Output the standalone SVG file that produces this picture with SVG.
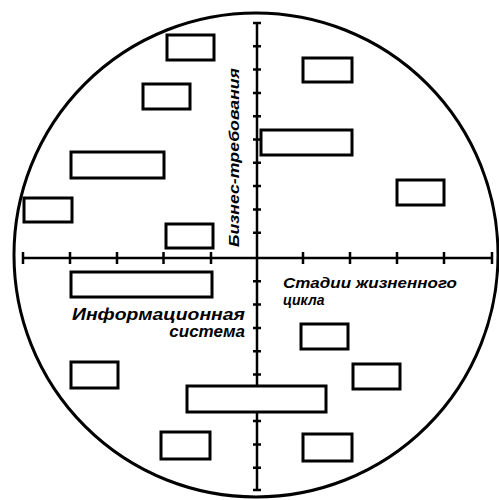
<svg xmlns="http://www.w3.org/2000/svg" width="499" height="500" viewBox="0 0 499 500">
<style>
.n rect{fill:#fff;stroke:#000;stroke-width:3}
.ax{stroke:#000;stroke-width:2.5;fill:none}
.tk{stroke:#000;stroke-width:2.5}
.t{font-family:"Liberation Sans",Arial,sans-serif;font-weight:bold;font-style:italic;fill:#000}
</style>
<rect width="499" height="500" fill="#fff"/>
<circle cx="256" cy="255" r="242" fill="none" stroke="#000" stroke-width="3"/>
<g id="connectors">
<line class="ax" x1="257" y1="22" x2="257" y2="491"/>
<line class="ax" x1="23" y1="258" x2="492" y2="258"/>
<path class="tk" d="M253 23h8M253 46.3h8M253 69.6h8M253 92.9h8M253 116.2h8M253 139.5h8M253 162.8h8M253 186.1h8M253 209.4h8M253 232.7h8M253 281.3h8M253 304.6h8M253 327.9h8M253 351.2h8M253 374.5h8M253 397.8h8M253 421.1h8M253 444.4h8M253 467.7h8M253 490h8"/>
<path class="tk" d="M23 252v12M70 252v12M117 252v12M163.5 252v12M211 252v12M303 252v12M350 252v12M397 252v12M444 252v12M492 252v12"/>
</g>
<g id="n1" class="n"><rect x="167" y="35" width="47" height="25"/></g>
<g id="n2" class="n"><rect x="143" y="84" width="47" height="25"/></g>
<g id="n3" class="n"><rect x="71" y="152" width="93" height="26"/></g>
<g id="n4" class="n"><rect x="24" y="198" width="48" height="24"/></g>
<g id="n5" class="n"><rect x="166" y="224" width="47" height="24"/></g>
<g id="n6" class="n"><rect x="303" y="58" width="49" height="24"/></g>
<g id="n7" class="n"><rect x="261" y="130" width="91" height="25"/></g>
<g id="n8" class="n"><rect x="397" y="180" width="47" height="25"/></g>
<g id="n9" class="n"><rect x="71" y="272" width="141" height="25"/></g>
<g id="n10" class="n"><rect x="71" y="362" width="47" height="26"/></g>
<g id="n11" class="n"><rect x="187" y="386" width="139" height="26"/></g>
<g id="n12" class="n"><rect x="161" y="432" width="49" height="27"/></g>
<g id="n13" class="n"><rect x="301" y="324" width="47" height="25"/></g>
<g id="n14" class="n"><rect x="353" y="364" width="47" height="25"/></g>
<g id="n15" class="n"><rect x="303" y="434" width="49" height="27"/></g>
<g id="labels">
<text class="t" font-size="15" transform="translate(239,247) rotate(-90)" textLength="179" lengthAdjust="spacingAndGlyphs">Бизнес-требования</text>
<text class="t" font-size="17" x="72" y="320" textLength="173" lengthAdjust="spacingAndGlyphs">Информационная</text>
<text class="t" font-size="17" x="245" y="337" text-anchor="end">система</text>
<text class="t" font-size="14" x="283" y="288" textLength="174" lengthAdjust="spacingAndGlyphs">Стадии жизненного</text>
<text class="t" font-size="14" x="283" y="305">цикла</text>
</g>
</svg>
